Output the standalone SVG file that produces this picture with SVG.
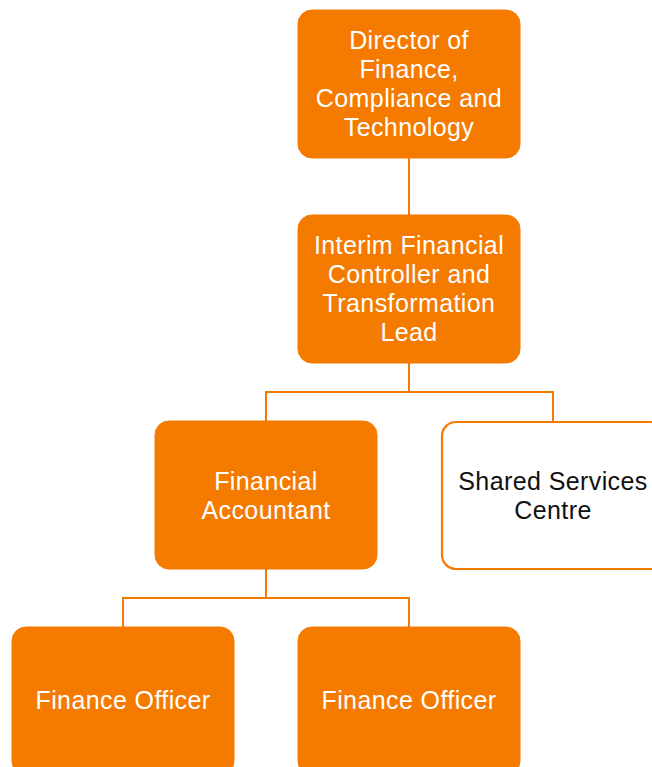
<svg xmlns="http://www.w3.org/2000/svg" width="652" height="767" viewBox="0 0 652 767">
  <style>
    .box { fill: #F57A00; stroke: #F57A00; stroke-width: 1; }
    .box-outline { fill: #FFFFFF; stroke: #F57A00; stroke-width: 2.2; }
    .label { font-family: "Liberation Sans", Arial, sans-serif; font-size: 25px; letter-spacing: 0.4px; fill: #FFFFFF; text-anchor: middle; dominant-baseline: central; }
    .label-dark { fill: #111111; }
    .link { fill: none; stroke: #F57A00; stroke-width: 2; }
  </style>
  <rect width="652" height="767" fill="#FFFFFF"/>

  <g id="connectors">
    <path class="link" d="M409 158 V215"/>
    <path class="link" d="M409 363 V392 H266 V421 M409 392 H553 V422"/>
    <path class="link" d="M266 569 V598 H123 V627 M266 598 H409 V627"/>
  </g>

  <g id="director">
    <rect class="box" x="298" y="10" width="222" height="148" rx="14"/>
    <text class="label" x="409" y="40">Director of</text>
    <text class="label" x="409" y="69">Finance,</text>
    <text class="label" x="409" y="98">Compliance and</text>
    <text class="label" x="409" y="127">Technology</text>
  </g>

  <g id="controller">
    <rect class="box" x="298" y="215" width="222" height="148" rx="14"/>
    <text class="label" x="409" y="245">Interim Financial</text>
    <text class="label" x="409" y="274">Controller and</text>
    <text class="label" x="409" y="303">Transformation</text>
    <text class="label" x="409" y="332">Lead</text>
  </g>

  <g id="accountant">
    <rect class="box" x="155" y="421" width="222" height="148" rx="14"/>
    <text class="label" x="266" y="480.5">Financial</text>
    <text class="label" x="266" y="509.5">Accountant</text>
  </g>

  <g id="shared-services">
    <rect class="box-outline" x="442" y="422" width="222" height="147" rx="14"/>
    <text class="label label-dark" x="553" y="480.5">Shared Services</text>
    <text class="label label-dark" x="553" y="509.5">Centre</text>
  </g>

  <g id="officer-1">
    <rect class="box" x="12" y="627" width="222" height="148" rx="14"/>
    <text class="label" x="123" y="700">Finance Officer</text>
  </g>

  <g id="officer-2">
    <rect class="box" x="298" y="627" width="222" height="148" rx="14"/>
    <text class="label" x="409" y="700">Finance Officer</text>
  </g>
</svg>
